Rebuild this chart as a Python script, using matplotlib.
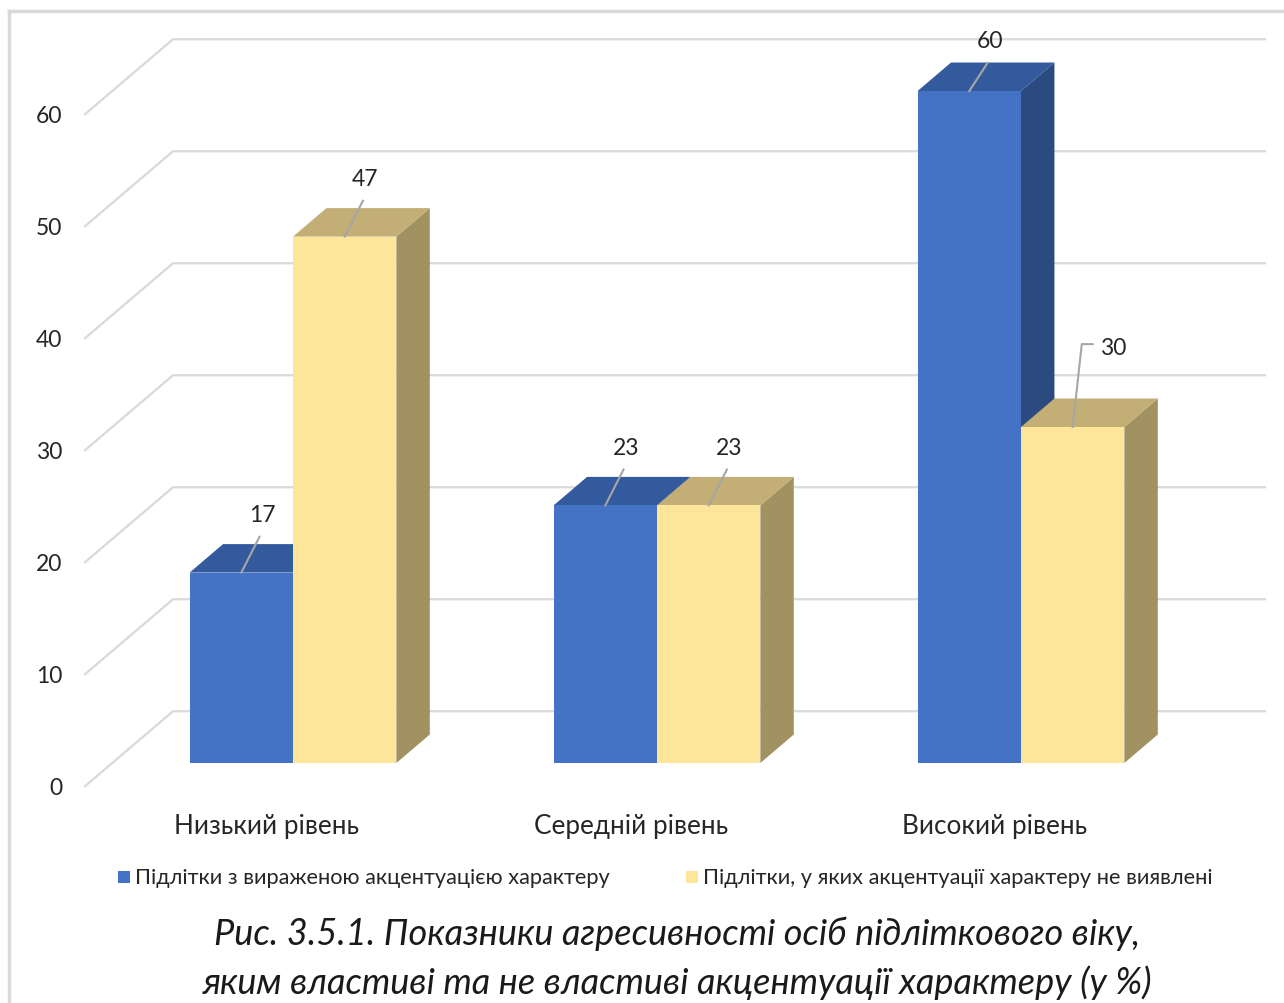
import matplotlib
matplotlib.use("Agg")
import matplotlib.pyplot as plt
from matplotlib.patches import Polygon, Rectangle
from matplotlib.lines import Line2D

# ---------------- data ----------------
categories = ["Низький рівень", "Середній рівень", "Високий рівень"]
series_names = ["Підлітки з вираженою акцентуацією характеру",
                "Підлітки, у яких акцентуації характеру не виявлені"]
series_1 = [17, 23, 60]
series_2 = [47, 23, 30]
y_ticks = [0, 10, 20, 30, 40, 50, 60]
caption = ["Рис. 3.5.1. Показники агресивності осіб підліткового віку,",
           "яким властиві та не властиві акцентуації характеру (у %)"]

# ---------------- style ----------------
FONT = ["Lato", "Open Sans", "DejaVu Sans"]
plt.rcParams["font.family"] = FONT

W, H = 1284, 1004
PX_PER_X = 364.0      # pixels per category unit
PX_PER_Y = 11.2       # pixels per value unit
X0_PX, Y0_PX = 657.0, 764.0   # pixel of (x=1, v=0) on bar front plane

DX = 88.0 / PX_PER_X          # full depth shift (x)
DY = 75.0 / PX_PER_Y          # full depth shift (y)
D_FRONT = 0.31                # bar front plane depth
D_BACK = 0.69                 # bar back plane depth
BAR_W = 0.284

colors = {
    0: ("#4472C4", "#335A9C", "#2B4A80"),   # front, top, side
    1: ("#FDE69A", "#C3AF76", "#A39261"),
}

fig = plt.figure(figsize=(W / 100, H / 100), dpi=100)
ax = fig.add_axes([0, 0, 1, 1])
ax.set_xlim(1 - X0_PX / PX_PER_X, 1 + (W - X0_PX) / PX_PER_X)
ax.set_ylim((Y0_PX - H) / PX_PER_Y, Y0_PX / PX_PER_Y)
ax.axis("off")

# frame
fx = lambda px: px / W
fy = lambda py: 1 - py / H
fig.add_artist(Line2D([fx(9), fx(9)], [fy(12), fy(1010)], color="#D9D9D9", lw=2.5))
fig.add_artist(Line2D([fx(9), fx(1290)], [fy(12), fy(12)], color="#D9D9D9", lw=2.5))

# gridlines (3D walls)
X_LEFT = (85 - X0_PX) / PX_PER_X + 1
X_RIGHT = (1265 - X0_PX) / PX_PER_X + 1
for v in y_ticks:
    yf = v - D_FRONT * DY
    yb = v + (1 - D_FRONT) * DY
    ax.plot([X_LEFT, X_LEFT + DX, X_RIGHT], [yf, yb, yb],
            color="#D9D9D9", lw=1.6, zorder=1, solid_joinstyle="miter")
    ax.text(X_LEFT - 0.062, yf - 0.08, str(v), ha="right", va="center",
            fontsize=16.5, color="#262626")

# bars
dx = (D_BACK - D_FRONT) * DX
dy = (D_BACK - D_FRONT) * DY
z = 3
for i in range(len(categories)):
    for s, vals in enumerate([series_1, series_2]):
        v = vals[i]
        x0 = i + (s - 1) * BAR_W
        x1 = x0 + BAR_W
        front, top, side = colors[s]
        ax.add_patch(Polygon([(x1, 0), (x1 + dx, dy), (x1 + dx, v + dy), (x1, v)],
                             closed=True, fc=side, ec="none", zorder=z))
        ax.add_patch(Polygon([(x0, v), (x0 + dx, v + dy), (x1 + dx, v + dy), (x1, v)],
                             closed=True, fc=top, ec="none", zorder=z))
        ax.add_patch(Rectangle((x0, 0), BAR_W, v, fc=front, ec="none", zorder=z))
        z += 1

# data labels with leader lines
for i in range(len(categories)):
    for s, vals in enumerate([series_1, series_2]):
        v = vals[i]
        xc = i + (s - 1) * BAR_W + BAR_W / 2
        if s == 1 and i == 2:
            lx, ly = xc + 0.025, v + 7.4
            ax.plot([xc, lx, lx + 0.03], [v, ly, ly], color="#A6A6A6", lw=1.5, zorder=20)
            ax.text(lx + 0.05, ly - 0.3, str(v), ha="left", va="center",
                    fontsize=16.5, color="#262626", zorder=21)
        else:
            rise = 4.5 if v >= 60 else 5.2
            ax.plot([xc, xc + 0.05], [v, v + rise - 2.0], color="#A6A6A6", lw=1.5, zorder=20)
            ax.text(xc + 0.057, v + rise, str(v), ha="center", va="center",
                    fontsize=16.5, color="#262626", zorder=21)

# category labels
for i, c in enumerate(categories):
    ax.text(i - 0.072, (Y0_PX - 827) / PX_PER_Y, c, ha="center", va="center",
            fontsize=18.8, color="#262626")

# legend
fig.add_artist(Rectangle((fx(118), fy(884)), 12 / W, 12 / H, transform=fig.transFigure,
                         fc=colors[0][0], ec="none"))
fig.text(fx(135), fy(878), series_names[0], ha="left", va="center", fontsize=15.7, color="#262626")
fig.add_artist(Rectangle((fx(686), fy(884)), 12 / W, 12 / H, transform=fig.transFigure,
                         fc=colors[1][0], ec="none"))
fig.text(fx(703), fy(878), series_names[1], ha="left", va="center", fontsize=15.7, color="#262626")

# caption
fig.text(fx(677), fy(934), caption[0], ha="center", va="center", fontsize=26,
         style="italic", color="#1a1a1a")
fig.text(fx(677), fy(983), caption[1], ha="center", va="center", fontsize=26,
         style="italic", color="#1a1a1a")

fig.savefig("out.png", dpi=100)
